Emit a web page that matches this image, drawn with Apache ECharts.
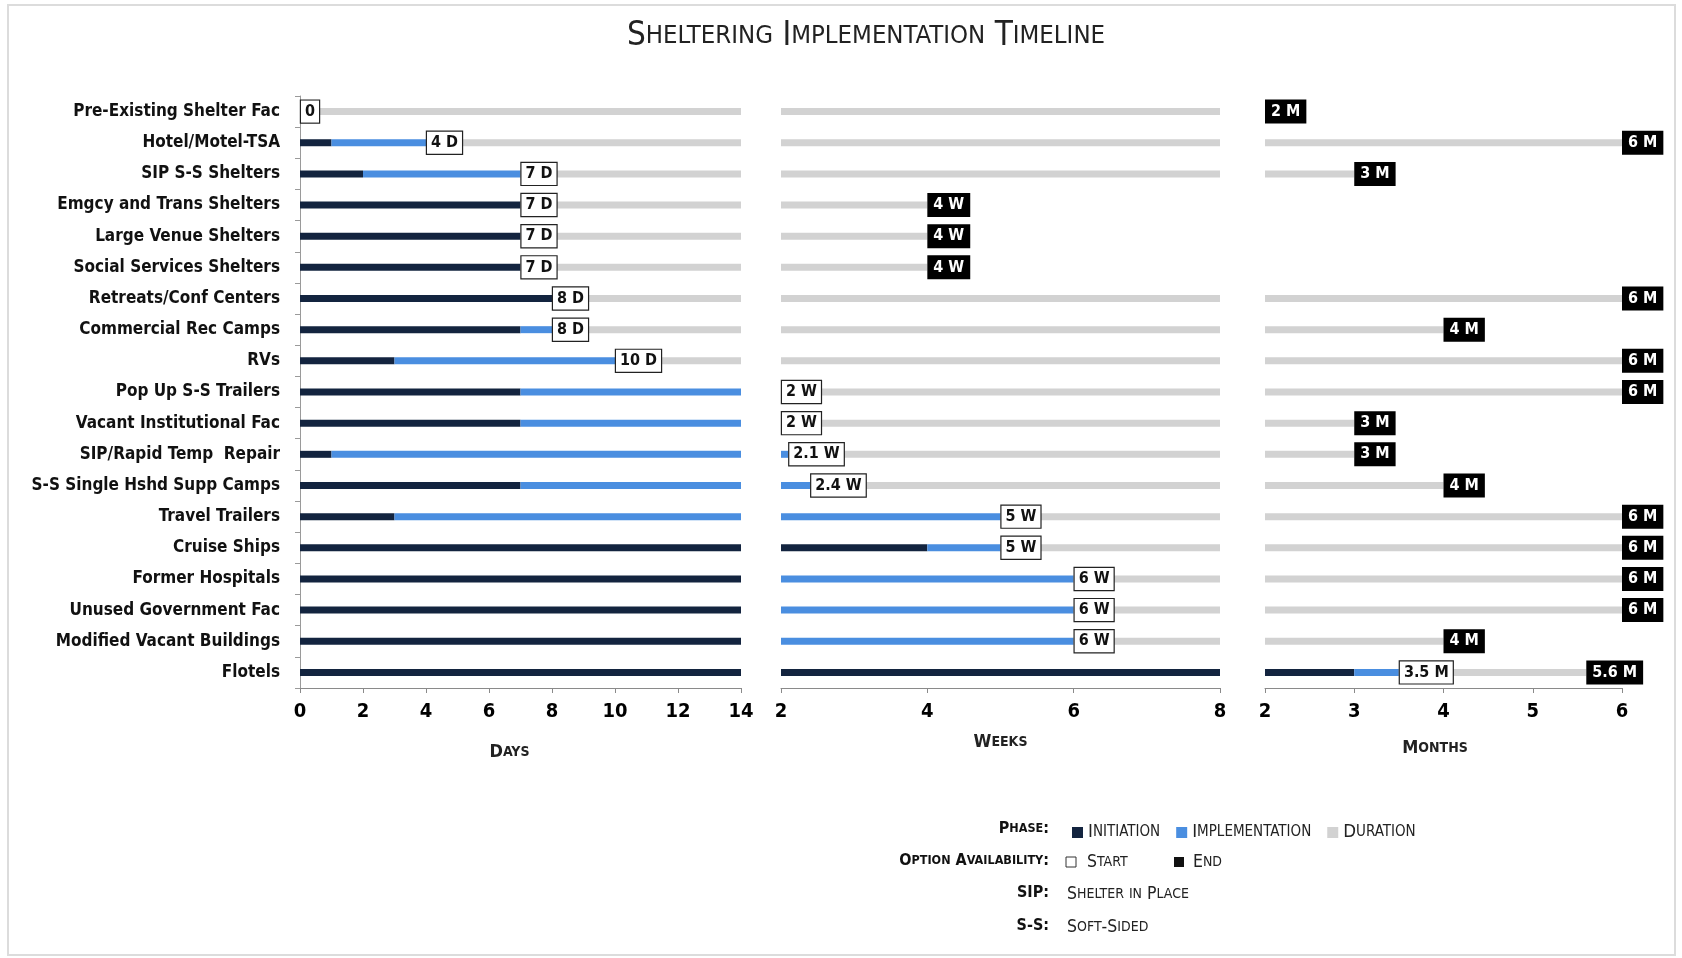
<!DOCTYPE html>
<html>
<head>
<meta charset="utf-8">
<title>Sheltering Implementation Timeline</title>
<script src="https://cdn.jsdelivr.net/npm/echarts@6/dist/echarts.min.js"></script>
<style>
    html, body {margin: 0; padding: 0; background: #fff;}
    #chart-timeline {width: 1682px; height: 958px;}
</style>
</head>
<body>
<div id="chart-timeline"></div>
<script>
// 数据：每一行的类别
var categories = ['Pre-Existing Shelter Fac', 'Hotel/Motel-TSA', 'SIP S-S Shelters', 'Emgcy and Trans Shelters',
    'Large Venue Shelters', 'Social Services Shelters', 'Retreats/Conf Centers', 'Commercial Rec Camps', 'RVs',
    'Pop Up S-S Trailers', 'Vacant Institutional Fac', 'SIP/Rapid Temp  Repair', 'S-S Single Hshd Supp Camps',
    'Travel Trailers', 'Cruise Ships', 'Former Hospitals', 'Unused Government Fac', 'Modified Vacant Buildings', 'Flotels'];

// days panel (end point of each phase)
var daysInitEnd = [0, 1, 2, 7, 7, 7, 8, 7, 3, 7, 7, 1, 7, 3, 14, 14, 14, 14, 14];
var daysImplEnd = [0, 4, 7, 7, 7, 7, 8, 8, 10, 14, 14, 14, 14, 14, 14, 14, 14, 14, 14];
var daysDurEnd = [14, 14, 14, 14, 14, 14, 14, 14, 14, 14, 14, 14, 14, 14, 14, 14, 14, 14, 14];
var daysStartText = ['0', '4 D', '7 D', '7 D', '7 D', '7 D', '8 D', '8 D', '10 D', '', '', '', '', '', '', '', '', '', ''];
var daysEndText = ['', '', '', '', '', '', '', '', '', '', '', '', '', '', '', '', '', '', ''];

// weeks panel
var weeksInitEnd = [2, 2, 2, 2, 2, 2, 2, 2, 2, 2, 2, 2, 2, 2, 4, 2, 2, 2, 8];
var weeksImplEnd = [2, 2, 2, 2, 2, 2, 2, 2, 2, 2, 2, 2.1, 2.4, 5, 5, 6, 6, 6, 8];
var weeksDurEnd = [8, 8, 8, 4, 4, 4, 8, 8, 8, 8, 8, 8, 8, 8, 8, 8, 8, 8, 8];
var weeksStartText = ['', '', '', '', '', '', '', '', '', '2 W', '2 W', '2.1 W', '2.4 W', '5 W', '5 W', '6 W', '6 W', '6 W', ''];
var weeksEndText = ['', '', '', '4 W', '4 W', '4 W', '', '', '', '', '', '', '', '', '', '', '', '', ''];

// months panel
var monthsInitEnd = [2, 2, 2, null, null, null, 2, 2, 2, 2, 2, 2, 2, 2, 2, 2, 2, 2, 3];
var monthsImplEnd = [2, 2, 2, null, null, null, 2, 2, 2, 2, 2, 2, 2, 2, 2, 2, 2, 2, 3.5];
var monthsDurEnd = [2, 6, 3, null, null, null, 6, 4, 6, 6, 3, 3, 4, 6, 6, 6, 6, 4, 5.6];
var monthsStartText = ['', '', '', '', '', '', '', '', '', '', '', '', '', '', '', '', '', '', '3.5 M'];
var monthsEndText = ['2 M', '6 M', '3 M', '', '', '', '6 M', '4 M', '6 M', '6 M', '3 M', '3 M', '4 M', '6 M', '6 M', '6 M', '6 M', '4 M', '5.6 M'];

var panels = [
    {name: 'Days', min: 0, max: 14, interval: 2, left: 300, width: 441, nameGap: 55, namePad: [0, 22, 0, 0],
        init: daysInitEnd, impl: daysImplEnd, dur: daysDurEnd, startText: daysStartText, endText: daysEndText},
    {name: 'Weeks', min: 2, max: 8, interval: 2, left: 781, width: 439, nameGap: 45, namePad: [0, 0, 0, 0],
        init: weeksInitEnd, impl: weeksImplEnd, dur: weeksDurEnd, startText: weeksStartText, endText: weeksEndText},
    {name: 'Months', min: 2, max: 6, interval: 1, left: 1265, width: 357, nameGap: 51, namePad: [0, 17, 0, 0],
        init: monthsInitEnd, impl: monthsImplEnd, dur: monthsDurEnd, startText: monthsStartText, endText: monthsEndText}
];

var FONT = '"DejaVu Sans Condensed", "DejaVu Sans", sans-serif';
var colorInit = '#13243f';
var colorImpl = '#4a8ee0';
var colorDur = '#d2d2d2';

// 小型大写字母
function sc(s) {
    var out = '', run = '', kind = '';
    for (var i = 0; i < s.length; i++) {
        var c = s[i];
        var k = (c >= 'a' && c <= 'z') ? 's' : 'b';
        if (k !== kind && run) { out += '{' + kind + '|' + run + '}'; run = ''; }
        kind = k;
        run += c.toUpperCase();
    }
    if (run) out += '{' + kind + '|' + run + '}';
    return out;
}

var startLabel = {
    show: true, position: 'right', distance: 1,
    backgroundColor: '#fff', borderColor: '#222', borderWidth: 1.2,
    padding: [4, 4, 2, 4], color: '#111', fontSize: 16, fontWeight: 'bold', fontFamily: FONT
};
var endLabel = {
    show: true, position: 'right', distance: 1,
    backgroundColor: '#000', borderColor: '#000', borderWidth: 1,
    padding: [4, 5, 2, 5], color: '#fff', fontSize: 16, fontWeight: 'bold', fontFamily: FONT
};

function seg(a, b) {
    if (a == null || b == null) return null;
    return Math.round((b - a) * 100) / 100;
}

var grids = [], xAxes = [], yAxes = [], series = [];

panels.forEach(function (p, gi) {
    grids.push({left: p.left, top: 96, width: p.width, height: 592});
    xAxes.push({
        type: 'value', gridIndex: gi, min: p.min, max: p.max, interval: p.interval,
        name: sc(p.name), nameLocation: 'middle', nameGap: p.nameGap,
        nameTextStyle: {
            padding: p.namePad,
            rich: {
                b: {fontSize: 18, fontWeight: 'bold', color: '#222', fontFamily: FONT},
                s: {fontSize: 14, fontWeight: 'bold', color: '#222', fontFamily: FONT}
            }
        },
        axisLine: {show: true, lineStyle: {color: '#8a8a8a', width: 1}},
        axisTick: {show: true, length: 5, lineStyle: {color: '#8a8a8a'}},
        axisLabel: {color: '#000', fontSize: 20, fontWeight: 'bold', fontFamily: FONT, margin: 14},
        splitLine: {show: false}
    });
    yAxes.push({
        type: 'category', gridIndex: gi, data: categories, inverse: true,
        axisLine: {show: gi === 0, lineStyle: {color: '#9a9a9a'}},
        axisTick: {show: gi === 0, length: 5, lineStyle: {color: '#9a9a9a'}},
        axisLabel: {show: gi === 0, color: '#111', fontSize: 17, fontWeight: 'bold', fontFamily: FONT, margin: 20},
        splitLine: {show: false}
    });

    var initData = [], implData = [], durData = [];
    for (var i = 0; i < categories.length; i++) {
        initData.push(p.init[i]);
        var implItem = {value: seg(p.init[i], p.impl[i])};
        if (p.startText[i]) {
            implItem.label = echarts.util.extend({formatter: p.startText[i]}, startLabel);
        }
        implData.push(implItem);
        var durItem = {value: seg(p.impl[i], p.dur[i])};
        if (p.endText[i]) {
            durItem.label = echarts.util.extend({formatter: p.endText[i]}, endLabel);
        }
        durData.push(durItem);
    }

    series.push({
        name: 'Initiation', type: 'bar', stack: 'p' + gi, xAxisIndex: gi, yAxisIndex: gi,
        barWidth: 7, clip: true, itemStyle: {color: colorInit}, data: initData
    });
    series.push({
        name: 'Implementation', type: 'bar', stack: 'p' + gi, xAxisIndex: gi, yAxisIndex: gi,
        barWidth: 7, clip: true, itemStyle: {color: colorImpl}, data: implData
    });
    series.push({
        name: 'Duration', type: 'bar', stack: 'p' + gi, xAxisIndex: gi, yAxisIndex: gi,
        barWidth: 7, clip: true, itemStyle: {color: colorDur}, data: durData
    });
});

var keyRich = {
    b: {fontSize: 17.5, fontWeight: 'normal', color: '#222', fontFamily: FONT},
    s: {fontSize: 14, fontWeight: 'normal', color: '#222', fontFamily: FONT}
};
var legendRich = {
    b: {fontSize: 18.5, fontWeight: 'normal', color: '#222', fontFamily: FONT},
    s: {fontSize: 15, fontWeight: 'normal', color: '#222', fontFamily: FONT}
};
var keyRichBold = {
    b: {fontSize: 16, fontWeight: 'bold', color: '#111', fontFamily: FONT},
    s: {fontSize: 12.5, fontWeight: 'bold', color: '#111', fontFamily: FONT}
};

function keyTitle(text, pos, bold) {
    var t = {text: sc(text), padding: 0, textStyle: {fontWeight: bold ? 'bold' : 'normal', rich: bold ? keyRichBold : keyRich}};
    return echarts.util.extend(t, pos);
}

var mainChart = echarts.init(document.getElementById('chart-timeline'));

var statTimeline = {
    backgroundColor: '#fff',
    animation: false,
    title: [
        {
            text: sc('Sheltering Implementation Timeline'), left: 627, top: 20, padding: 0,
            textStyle: {
                fontWeight: 'normal',
                rich: {
                    b: {fontSize: 33, fontWeight: 'normal', color: '#222', fontFamily: FONT},
                    s: {fontSize: 25.5, fontWeight: 'normal', color: '#222', fontFamily: FONT}
                }
            }
        },
        keyTitle('Phase:', {right: 633, top: 821}, true),
        keyTitle('Option Availability:', {right: 633, top: 853}, true),
        keyTitle('SIP:', {right: 633, top: 885}, true),
        keyTitle('S-S:', {right: 633, top: 918}, true),
        keyTitle('Start', {left: 1087, top: 853}, false),
        keyTitle('End', {left: 1193, top: 853}, false),
        keyTitle('Shelter in Place', {left: 1067, top: 885}, false),
        keyTitle('Soft-Sided', {left: 1067, top: 918}, false)
    ],
    legend: {
        left: 1067, top: 818, itemWidth: 11, itemHeight: 11, itemGap: 16,
        icon: 'rect', selectedMode: false,
        data: ['Initiation', 'Implementation', 'Duration'],
        formatter: function (name) { return sc(name); },
        textStyle: {rich: legendRich}
    },
    grid: grids,
    xAxis: xAxes,
    yAxis: yAxes,
    series: series,
    graphic: [
        {type: 'rect', shape: {x: 8, y: 5, width: 1667, height: 950},
            style: {fill: 'none', stroke: '#dcdcdc', lineWidth: 2}, silent: true},
        {type: 'rect', shape: {x: 1066, y: 857, width: 10, height: 10},
            style: {fill: '#fff', stroke: '#333', lineWidth: 1}},
        {type: 'rect', shape: {x: 1174, y: 857, width: 10, height: 10},
            style: {fill: '#111'}}
    ]
};

mainChart.setOption(statTimeline);
</script>
</body>
</html>
